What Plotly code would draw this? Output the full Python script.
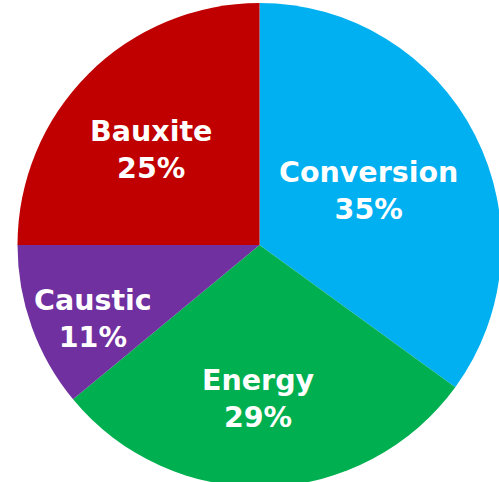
import plotly.graph_objects as go

# Cost breakdown shares (percent), listed clockwise from 12 o'clock
categories = ["Conversion", "Energy", "Caustic", "Bauxite"]
shares = [35, 29, 11, 25]
colors = ["#00B0F0", "#00B050", "#7030A0", "#C00000"]

W, H = 510, 492
cx, cy, r = 259.5, 245.0, 242.0

# label centres in pixels (x from left, y from top), one per slice
label_px = [(368.5, 190.5), (258.0, 399.0), (92.5, 319.0), (150.5, 150.0)]

fig = go.Figure(
    go.Pie(
        labels=categories,
        values=shares,
        sort=False,
        direction="clockwise",
        rotation=0,
        marker=dict(colors=colors, line=dict(width=0)),
        textinfo="none",
        hoverinfo="skip",
        domain=dict(
            x=[(cx - r) / W, (cx + r) / W],
            y=[1 - (cy + r) / H, 1 - (cy - r) / H],
        ),
    )
)

for name, val, (px, py) in zip(categories, shares, label_px):
    fig.add_annotation(
        x=px / W,
        y=1 - py / H,
        xref="paper",
        yref="paper",
        text=f"{name}<br>{val}%",
        showarrow=False,
        xanchor="center",
        yanchor="middle",
        align="center",
        font=dict(family="DejaVu Sans", size=28.5, color="white", weight="bold"),
    )

fig.update_layout(
    width=W,
    height=H,
    margin=dict(l=0, r=0, t=0, b=0),
    showlegend=False,
    paper_bgcolor="white",
    plot_bgcolor="white",
)

fig.write_html("out.html", post_script="document.body.style.overflow='hidden';document.body.style.margin='0';")
